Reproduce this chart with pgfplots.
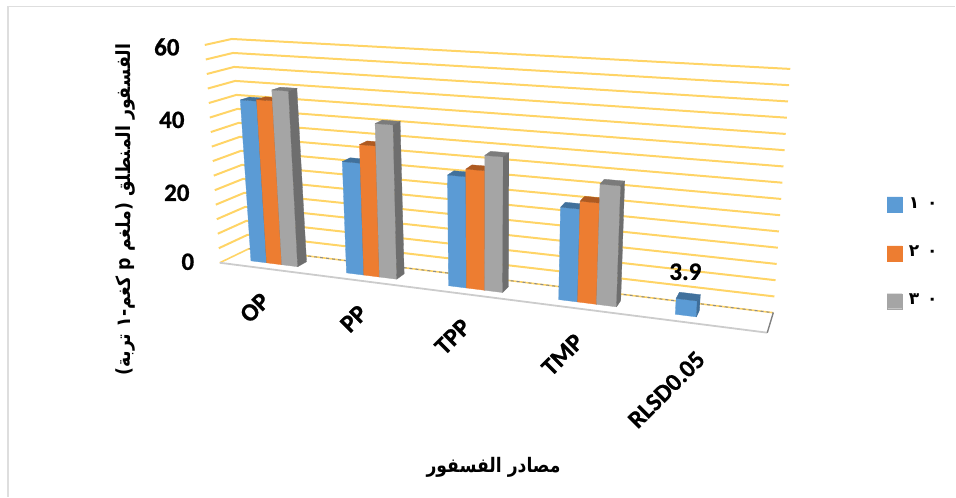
\documentclass[border=0pt]{standalone}
\usepackage{pgfplots}
\pgfplotsset{compat=1.18}
\usepackage{fontspec}
\setmainfont{Carlito}[BoldFeatures={FakeBold=0.8}]
\newfontfamily\arabicfont[Script=Arabic]{DejaVu Sans}
\TeXXeTstate=1

\definecolor{sblue}{HTML}{5B9BD5}
\definecolor{sorange}{HTML}{ED7D31}
\definecolor{sgray}{HTML}{A5A5A5}
\definecolor{tblue}{HTML}{41719C}
\definecolor{torange}{HTML}{AE5A21}
\definecolor{tgray}{HTML}{7B7B7B}
\definecolor{dblue}{HTML}{3F6E99}
\definecolor{dorange}{HTML}{A85620}
\definecolor{dgray}{HTML}{6E6E6E}
\definecolor{gridcol}{HTML}{FFD466}

% One bar: left and right position along the category direction, height,
% then the colours of its front, top and side faces.
\newcommand{\drawbar}[6]{%
  \addplot[fill=#4,draw=#4,line width=0.3pt] table[x expr={wx(\thisrow{u},\thisrow{v},\thisrow{d})},y expr={wy(\thisrow{u},\thisrow{v},\thisrow{d})},row sep=\\]
    {u v d\\ #1 0 0.33\\ #2 0 0.33\\ #2 #3 0.33\\ #1 #3 0.33\\ #1 0 0.33\\};
  \addplot[fill=#5,draw=#5,line width=0.3pt] table[x expr={wx(\thisrow{u},\thisrow{v},\thisrow{d})},y expr={wy(\thisrow{u},\thisrow{v},\thisrow{d})},row sep=\\]
    {u v d\\ #1 #3 0.33\\ #2 #3 0.33\\ #2 #3 0.67\\ #1 #3 0.67\\ #1 #3 0.33\\};
  \addplot[fill=#6,draw=#6,line width=0.3pt] table[x expr={wx(\thisrow{u},\thisrow{v},\thisrow{d})},y expr={wy(\thisrow{u},\thisrow{v},\thisrow{d})},row sep=\\]
    {u v d\\ #2 0 0.33\\ #2 0 0.67\\ #2 #3 0.67\\ #2 #3 0.33\\ #2 0 0.33\\};
}
% One gridline at a given height, along the side wall and then the back wall.
\newcommand{\gridline}[1]{%
  \addplot[gridcol,line width=2pt] table[x expr={wx(\thisrow{u},\thisrow{v},\thisrow{d})},y expr={wy(\thisrow{u},\thisrow{v},\thisrow{d})},row sep=\\]
    {u v d\\ 0 #1 0\\ 0 #1 1\\ 1 #1 1\\};
}

\begin{document}
\begin{tikzpicture}
\begin{axis}[
  scale only axis, width=956pt, height=497pt,
  xmin=0, xmax=956, ymin=0, ymax=497, y dir=reverse,
  axis lines=none, clip=false, no markers,
  declare function={
    lox(\u,\d)=(1-\d)*((1-\u)*220+\u*768)+\d*((1-\u)*249+\u*774);
    loy(\u,\d)=(1-\d)*((1-\u)*263+\u*333)+\d*((1-\u)*249+\u*313);
    hix(\u,\d)=(1-\d)*((1-\u)*205+\u*786)+\d*((1-\u)*232+\u*791);
    hiy(\u,\d)=(1-\d)*((1-\u)*45+\u*81)+\d*((1-\u)*39+\u*69);
    wx(\u,\v,\d)=(1-\v/60)*lox(\u,\d)+(\v/60)*hix(\u,\d);
    wy(\u,\v,\d)=(1-\v/60)*loy(\u,\d)+(\v/60)*hiy(\u,\d);
  },
]
% page extent
\path (axis cs:0,0) rectangle (axis cs:956,497);
% chart frame
\addplot[color=black!13,line width=1.8pt] coordinates {(8,497) (8,6.5) (956,6.5)};

% gridlines, every 4 units
\gridline{4}\gridline{8}\gridline{12}\gridline{16}\gridline{20}
\gridline{24}\gridline{28}\gridline{32}\gridline{36}\gridline{40}
\gridline{44}\gridline{48}\gridline{52}\gridline{56}\gridline{60}

% floor
\addplot[gridcol,line width=1.6pt] table[x expr={wx(\thisrow{u},\thisrow{v},\thisrow{d})},y expr={wy(\thisrow{u},\thisrow{v},\thisrow{d})},row sep=\\]
  {u v d\\ 0 0 0\\ 0 0 1\\ 1 0 1\\};
\addplot[black!45,line width=1pt,dash pattern=on 3pt off 3pt] table[x expr={wx(\thisrow{u},\thisrow{v},\thisrow{d})},y expr={wy(\thisrow{u},\thisrow{v},\thisrow{d})},row sep=\\]
  {u v d\\ 0 0 1\\ 1 0 1\\};
\addplot[black!20,line width=1.8pt] table[x expr={wx(\thisrow{u},\thisrow{v},\thisrow{d})},y expr={wy(\thisrow{u},\thisrow{v},\thisrow{d})},row sep=\\]
  {u v d\\ 0 0 0\\ 1 0 0\\};
\addplot[black!50,line width=1.4pt] table[x expr={wx(\thisrow{u},\thisrow{v},\thisrow{d})},y expr={wy(\thisrow{u},\thisrow{v},\thisrow{d})},row sep=\\]
  {u v d\\ 1 0 0\\ 1 0 1\\};

% OP
\drawbar{0.040}{0.069}{44.6}{sblue}{tblue}{dblue}
\drawbar{0.069}{0.097}{45}{sorange}{torange}{dorange}
\drawbar{0.097}{0.1265}{48}{sgray}{tgray}{dgray}
% PP
\drawbar{0.217}{0.249}{30}{sblue}{tblue}{dblue}
\drawbar{0.249}{0.278}{35}{sorange}{torange}{dorange}
\drawbar{0.278}{0.310}{41}{sgray}{tgray}{dgray}
% TPP
\drawbar{0.406}{0.439}{29}{sblue}{tblue}{dblue}
\drawbar{0.439}{0.473}{31}{sorange}{torange}{dorange}
\drawbar{0.473}{0.506}{35}{sgray}{tgray}{dgray}
% TMP
\drawbar{0.610}{0.645}{23.5}{sblue}{tblue}{dblue}
\drawbar{0.645}{0.680}{25.5}{sorange}{torange}{dorange}
\drawbar{0.680}{0.717}{30.3}{sgray}{tgray}{dgray}
% RLSD0.05
\drawbar{0.826}{0.865}{3.9}{sblue}{tblue}{dblue}

% value axis labels
\node[font=\fontsize{25}{25}\selectfont\bfseries] at (axis cs:167,47) {60};
\node[font=\fontsize{25}{25}\selectfont\bfseries] at (axis cs:172,120) {40};
\node[font=\fontsize{25}{25}\selectfont\bfseries] at (axis cs:177,193) {20};
\node[font=\fontsize{25}{25}\selectfont\bfseries] at (axis cs:188,262) {0};

% category labels
\node[rotate=45,font=\fontsize{25}{25}\selectfont\bfseries] at (axis cs:255,308) {OP};
\node[rotate=45,font=\fontsize{25}{25}\selectfont\bfseries] at (axis cs:354,319) {PP};
\node[rotate=45,font=\fontsize{25}{25}\selectfont\bfseries] at (axis cs:453,337) {TPP};
\node[rotate=45,font=\fontsize{25}{25}\selectfont\bfseries] at (axis cs:563,355) {TMP};
\node[rotate=45,font=\fontsize{25}{25}\selectfont\bfseries] at (axis cs:667,390) {RLSD0.05};

% value label
\node[font=\fontsize{25}{25}\selectfont\bfseries] at (axis cs:686,272) {3.9};

% axis titles
\node[rotate=90,font=\fontsize{19.5}{20}\selectfont] at (axis cs:126,210)
  {\scalebox{0.89}[1]{\arabicfont\bfseries\beginR الفسفور المنطلق (ملغم \beginL p\endL{} كغم-١ تربة)\endR}};
\node[font=\fontsize{20}{20}\selectfont] at (axis cs:494,468)
  {\scalebox{0.86}[1]{\arabicfont\bfseries\beginR مصادر الفسفور\endR}};

% legend
\addplot[sblue,fill=sblue] coordinates {(888,197) (903,197) (903,212) (888,212) (888,197)};
\addplot[sorange,fill=sorange] coordinates {(888,246) (903,246) (903,261) (888,261) (888,246)};
\addplot[sgray,fill=sgray] coordinates {(888,294) (903,294) (903,309) (888,309) (888,294)};
\node[font=\fontsize{17}{17}\selectfont] at (axis cs:924,203) {\arabicfont\bfseries ١\hspace{8pt}٠};
\node[font=\fontsize{17}{17}\selectfont] at (axis cs:924,251) {\arabicfont\bfseries ٢\hspace{8pt}٠};
\node[font=\fontsize{17}{17}\selectfont] at (axis cs:924,299) {\arabicfont\bfseries ٣\hspace{8pt}٠};
\end{axis}
\end{tikzpicture}
\end{document}
